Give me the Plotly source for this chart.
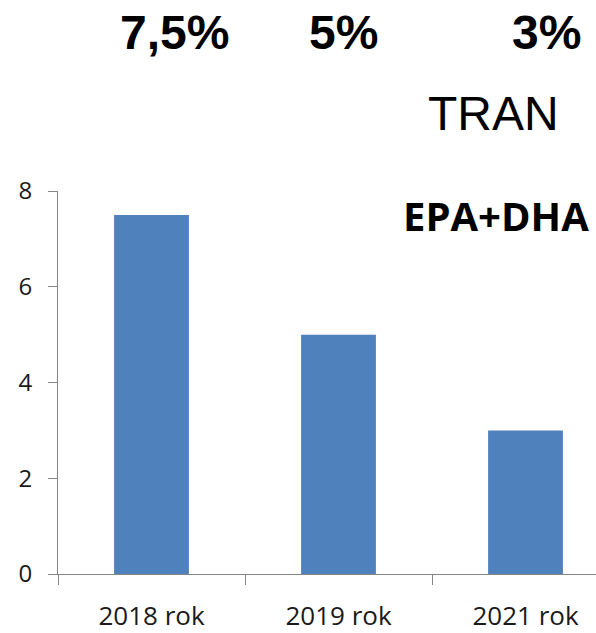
import plotly.graph_objects as go

categories = ["2018 rok", "2019 rok", "2021 rok"]
values = [7.5, 5, 3]
top_labels = ["7,5%", "5%", "3%"]
y_ticks = [0, 2, 4, 6, 8]

W, H = 596, 633
L, R, T, B = 58, 0, 191, 55
pw, ph = W - L - R, H - T - B

def px(x):
    return (x - L) / pw

def py(y):
    return (H - B - y) / ph

fig = go.Figure(go.Bar(x=categories, y=values, marker=dict(color="#4F81BD", line=dict(width=0))))

annotations = []
for txt, cx in zip(top_labels, [174, 343, 546]):
    annotations.append(dict(text=f"<b>{txt}</b>", x=px(cx), y=py(31), xref="paper", yref="paper",
                            xanchor="center", yanchor="middle", showarrow=False,
                            font=dict(family="Liberation Sans", size=48, color="black")))
annotations.append(dict(text="TRAN", x=px(493), y=py(113), xref="paper", yref="paper",
                        xanchor="center", yanchor="middle", showarrow=False,
                        font=dict(family="Liberation Sans", size=48, color="black")))
annotations.append(dict(text="<b>EPA+DHA</b>", x=px(591), y=py(216), xref="paper", yref="paper",
                        xanchor="right", yanchor="middle", showarrow=False,
                        font=dict(family="Open Sans", size=40, color="black")))

fig.update_layout(
    width=W, height=H,
    margin=dict(l=L, r=R, t=T, b=B),
    paper_bgcolor="white", plot_bgcolor="white",
    bargap=0.6,
    showlegend=False,
    annotations=annotations,
    font=dict(family="Open Sans", size=24, color="#1a1a1a"),
)
fig.update_xaxes(
    type="category", range=[-0.5, 2.377], tickson="boundaries",
    showline=True, linecolor="#868686", linewidth=1,
    ticks="outside", ticklen=10, tickcolor="#868686",
    showgrid=False, zeroline=False, ticklabelstandoff=19,
    tickfont=dict(size=26),
)
fig.update_yaxes(
    range=[0, 8], tickvals=y_ticks,
    showline=True, linecolor="#868686", linewidth=1,
    ticks="outside", ticklen=9, tickcolor="#868686",
    showgrid=False, zeroline=False, ticklabelstandoff=11,
    tickfont=dict(size=24),
)

fig.write_html("out.html", config={"displayModeBar": False},
               post_script="document.body.style.margin='0';window.dispatchEvent(new Event('resize'));")
